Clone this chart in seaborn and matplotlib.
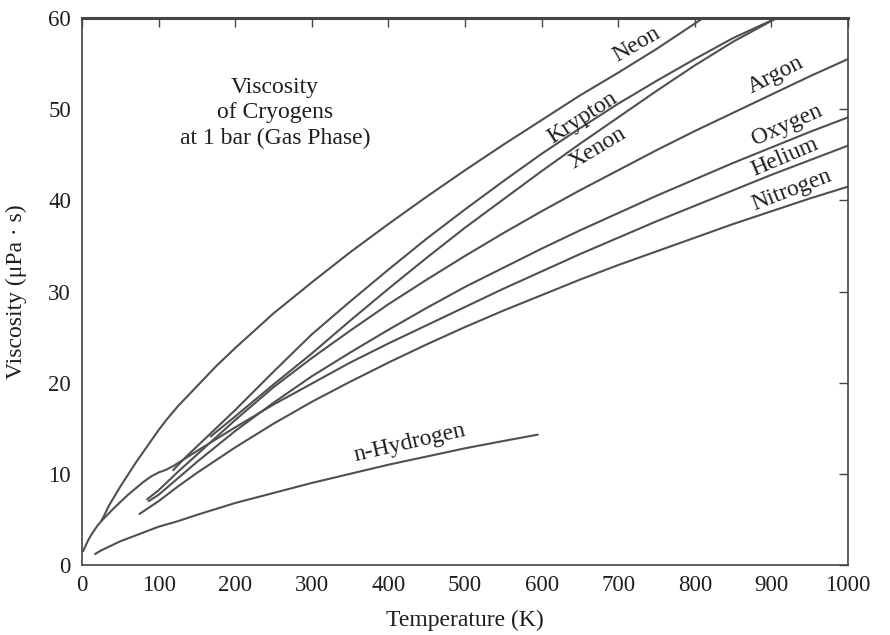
import matplotlib
matplotlib.use("Agg")
import matplotlib.pyplot as plt
import seaborn as sns
import pandas as pd

# ---- data ----
helium_T = [1.5, 4, 8, 12, 16, 20, 25, 32, 40, 50, 60, 70, 80, 90, 100, 110, 120, 135, 150, 175,
            200, 250, 300, 350, 400, 450, 500, 550, 600, 650, 700, 750, 800, 850, 900, 950, 1000]
helium_v = [1.5, 2.0, 2.7, 3.3, 3.8, 4.3, 4.8, 5.4, 6.1, 6.9, 7.7, 8.4, 9.1, 9.7, 10.15, 10.45, 10.9, 11.7, 12.5, 13.8,
            15.1, 17.6, 19.9, 22.2, 24.3, 26.3, 28.3, 30.3, 32.2, 34.1, 35.9, 37.7, 39.4, 41.1, 42.8, 44.4, 46.0]

neon_T = [25, 30, 35, 40, 50, 60, 70, 80, 90, 100, 110, 125, 150, 175, 200, 250, 300, 350,
          400, 450, 500, 550, 600, 650, 700, 750, 811]
neon_v = [4.8, 5.6, 6.5, 7.2, 8.6, 9.9, 11.2, 12.4, 13.6, 14.8, 15.9, 17.4, 19.6, 21.8, 23.8, 27.6, 31.0, 34.3,
          37.4, 40.4, 43.3, 46.1, 48.8, 51.5, 54.0, 56.6, 60.0]

argon_T = [85, 100, 125, 150, 175, 200, 250, 300, 350, 400, 450, 500, 550, 600, 650, 700, 750, 800, 850, 900, 950, 1000]
argon_v = [7.2, 8.2, 10.2, 12.1, 14.0, 15.9, 19.5, 22.7, 25.7, 28.6, 31.3, 33.9, 36.4, 38.8, 41.1, 43.3, 45.5, 47.6,
           49.6, 51.6, 53.6, 55.5]

oxygen_T = [87, 100, 125, 150, 175, 200, 250, 300, 350, 400, 450, 500, 550, 600, 650, 700, 750, 800, 850, 900, 950, 1000]
oxygen_v = [7.0, 7.7, 9.5, 11.3, 13.0, 14.7, 17.8, 20.7, 23.3, 25.8, 28.2, 30.5, 32.6, 34.7, 36.7, 38.6, 40.5, 42.3,
            44.1, 45.8, 47.5, 49.1]

nitrogen_T = [75, 100, 125, 150, 175, 200, 250, 300, 350, 400, 450, 500, 550, 600, 650, 700, 750, 800, 850, 900, 950, 1000]
nitrogen_v = [5.6, 7.0, 8.6, 10.1, 11.5, 12.9, 15.5, 17.9, 20.1, 22.2, 24.2, 26.1, 27.9, 29.6, 31.3, 32.9, 34.4, 35.9,
              37.4, 38.8, 40.2, 41.5]

hydrogen_T = [17, 25, 35, 50, 75, 100, 125, 150, 200, 250, 300, 350, 400, 450, 500, 550, 595]
hydrogen_v = [1.2, 1.6, 2.0, 2.6, 3.4, 4.2, 4.8, 5.5, 6.8, 7.9, 9.0, 10.0, 11.0, 11.9, 12.8, 13.6, 14.3]

krypton_T = [119, 135, 150, 175, 200, 250, 300, 350, 400, 450, 500, 550, 600, 650, 700, 750, 800, 850, 907]
krypton_v = [10.4, 11.8, 13.0, 15.0, 17.0, 21.2, 25.3, 28.9, 32.4, 35.8, 39.0, 42.1, 45.1, 47.9, 50.6, 53.1, 55.5,
             57.8, 60.0]

xenon_T = [168, 200, 250, 300, 350, 400, 450, 500, 550, 600, 650, 700, 750, 800, 850, 907]
xenon_v = [14.1, 16.3, 19.8, 23.2, 26.8, 30.3, 33.7, 37.0, 40.1, 43.2, 46.2, 49.1, 52.0, 54.8, 57.4, 60.0]

x_ticks = [0, 100, 200, 300, 400, 500, 600, 700, 800, 900, 1000]
y_ticks = [0, 10, 20, 30, 40, 50, 60]

# label text, anchor (T, viscosity), rotation
labels = ["Neon", "Krypton", "Xenon", "Argon", "Oxygen", "Helium", "Nitrogen", "n-Hydrogen"]
label_T = [724, 653, 673, 905, 920, 918, 927, 428]
label_v = [57.1, 49.1, 45.7, 53.7, 48.3, 44.8, 41.1, 13.4]
label_rot = [30, 33, 31, 27, 24, 23, 21, 13]

series = {
    "Helium": (helium_T, helium_v),
    "Neon": (neon_T, neon_v),
    "Argon": (argon_T, argon_v),
    "Oxygen": (oxygen_T, oxygen_v),
    "Nitrogen": (nitrogen_T, nitrogen_v),
    "n-Hydrogen": (hydrogen_T, hydrogen_v),
    "Krypton": (krypton_T, krypton_v),
    "Xenon": (xenon_T, xenon_v),
}

sns.set_style("white")
plt.rcParams["font.family"] = ["Liberation Serif", "DejaVu Serif"]

fig = plt.figure(figsize=(8.9, 6.35), dpi=100)
ax = fig.add_axes([82 / 890, 1 - 565 / 635, (848 - 82) / 890, (565 - 18) / 635])

line_color = "#505050"
for name, (T, v) in series.items():
    df = pd.DataFrame({"T": T, "v": v})
    sns.lineplot(data=df, x="T", y="v", ax=ax, color=line_color, linewidth=1.5,
                 estimator=None, sort=False)

for txt, t, v, r in zip(labels, label_T, label_v, label_rot):
    ax.text(t, v, txt, rotation=r, rotation_mode="anchor", ha="center", va="center",
            fontsize=17, color="#1e1e1e")

ax.text(252, 49.6, "Viscosity\nof Cryogens\nat 1 bar (Gas Phase)", ha="center", va="center",
        fontsize=17, color="#1e1e1e", linespacing=1.28)

ax.set_xlim(0, 1000)
ax.set_ylim(0, 60)
ax.set_xticks(x_ticks)
ax.set_yticks(y_ticks)
ax.set_xticklabels([str(t) for t in x_ticks])
ax.set_yticklabels([str(t) for t in y_ticks])
ax.tick_params(direction="in", length=6.5, width=1, colors="#444444", labelsize=16.5,
               top=True, right=True, labelcolor="#1e1e1e")
ax.tick_params(axis="x", pad=7)
ax.tick_params(axis="y", pad=8)
for s in ax.spines.values():
    s.set_visible(True)
    s.set_color("#444444")
    s.set_linewidth(1.2)
ax.spines["top"].set_linewidth(2.2)

ax.set_xlabel("Temperature (K)", fontsize=17, color="#1e1e1e", labelpad=10)
ax.set_ylabel("Viscosity (μPa · s)", fontsize=17, color="#1e1e1e", labelpad=15)

fig.savefig("out.png", dpi=100)
